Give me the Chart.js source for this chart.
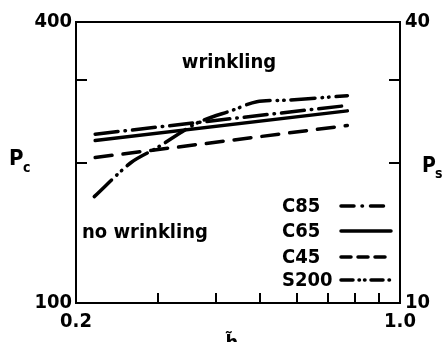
<!DOCTYPE html>
<html><head><meta charset="utf-8">
<script src="https://cdn.jsdelivr.net/npm/chart.js@4/dist/chart.umd.min.js"></script>
<style>html,body{margin:0;padding:0;background:#fff}</style>
</head><body>
<canvas id="c" width="443" height="342" style="display:block;width:443px;height:342px"></canvas>
<script>
// ---- data (log-log axes) ----
const seriesNames = ['C85', 'C65', 'C45', 'S200'];
const c85H = [0.22, 0.77];
const c85P = [230, 265];
const c65H = [0.22, 0.77];
const c65P = [223, 258];
const c45H = [0.22, 0.77];
const c45P = [205, 240];
const s200H = [0.219, 0.263, 0.299, 0.365, 0.436, 0.491, 0.570, 0.77];
const s200P = [169, 200, 215, 243, 259, 270, 272, 278];
const xTicks = [0.2, 0.3, 0.4, 0.5, 0.6, 0.7, 0.8, 0.9, 1.0];
const xTickLabels = ['0.2', '', '', '', '', '', '', '', '1.0'];
const pcTicks = [100, 200, 300, 400];
const pcTickLabels = ['100', '', '', '400'];
const psTicks = [10, 20, 30, 40];
const psTickLabels = ['10', '', '', '40'];
const regionLabels = ['wrinkling', 'no wrinkling'];

const FAM = '"DejaVu Sans Condensed", "DejaVu Sans"';
const F = (px) => 'bold ' + px + 'px ' + FAM;
const toPts = (h, p) => h.map((x, i) => ({x: x, y: p[i]}));

const decor = {
  id: 'decor',
  afterDraw(chart) {
    const ctx = chart.ctx;
    const a = chart.chartArea;
    const sx = chart.scales.x, sy = chart.scales.y, sy2 = chart.scales.y2;
    ctx.save();
    ctx.strokeStyle = '#000';
    ctx.fillStyle = '#000';
    ctx.lineWidth = 2;
    ctx.lineCap = 'butt';
    // top frame
    ctx.beginPath();
    ctx.moveTo(a.left - 1, a.top); ctx.lineTo(a.right + 1, a.top);
    ctx.stroke();
    // inward tick marks
    ctx.beginPath();
    xTicks.slice(1, -1).forEach(v => {
      const px = Math.round(sx.getPixelForValue(v));
      ctx.moveTo(px, a.bottom); ctx.lineTo(px, a.bottom - 10);
    });
    pcTicks.slice(1, -1).forEach(v => {
      const py = Math.round(sy.getPixelForValue(v));
      ctx.moveTo(a.left, py); ctx.lineTo(a.left + 11, py);
    });
    psTicks.slice(1, -1).forEach(v => {
      const py = Math.round(sy2.getPixelForValue(v));
      ctx.moveTo(a.right, py); ctx.lineTo(a.right - 11, py);
    });
    ctx.stroke();

    // region labels
    ctx.font = F(20);
    ctx.textBaseline = 'alphabetic';
    ctx.textAlign = 'center';
    ctx.fillText(regionLabels[0], 229, 68);
    ctx.textAlign = 'left';
    ctx.fillText(regionLabels[1], 82, 238);

    // axis titles
    ctx.font = F(22);
    ctx.fillText('P', 9, 165);
    ctx.font = F(14);
    ctx.fillText('c', 23, 172);
    ctx.font = F(21);
    ctx.fillText('P', 422, 172);
    ctx.font = F(14);
    ctx.fillText('s', 435, 178);
    ctx.font = F(20);
    ctx.textAlign = 'center';
    ctx.fillText('h\u0303', 232, 349);

    // legend
    const legY = [206, 231, 257, 280];
    const legDash = [[13, 8, 0.5, 8], [], [10, 7], [12, 6, 0.5, 5, 0.5, 6]];
    chart.data.datasets.forEach((ds, i) => {
      ctx.font = F(20);
      ctx.textAlign = 'left';
      ctx.textBaseline = 'middle';
      ctx.fillText(ds.label, 282, legY[i] + 1);
      ctx.save();
      ctx.lineWidth = 3.5;
      ctx.lineCap = 'round';
      ctx.setLineDash(legDash[i]);
      ctx.beginPath();
      ctx.moveTo(341, legY[i]); ctx.lineTo(391, legY[i]);
      ctx.stroke();
      ctx.restore();
    });
    ctx.restore();
  }
};

const tickFont = {family: FAM, size: 20, weight: 'bold'};
new Chart(document.getElementById('c'), {
  type: 'line',
  data: {
    datasets: [
      {label: seriesNames[0], data: toPts(c85H, c85P), borderDash: [23, 7, 0.5, 7]},
      {label: seriesNames[1], data: toPts(c65H, c65P), borderDash: []},
      {label: seriesNames[2], data: toPts(c45H, c45P), borderDash: [17, 11]},
      {label: seriesNames[3], data: toPts(s200H, s200P), borderDash: [24, 7, 0.5, 6, 0.5, 7], tension: 0.3}
    ]
  },
  options: {
    responsive: false,
    animation: false,
    devicePixelRatio: 1,
    layout: {padding: {top: 22, left: 0, right: 0, bottom: 0}},
    plugins: {legend: {display: false}, tooltip: {enabled: false}},
    elements: {
      point: {radius: 0},
      line: {borderColor: '#000', borderWidth: 3.5, borderCapStyle: 'round', fill: false, tension: 0}
    },
    scales: {
      x: {
        type: 'logarithmic', position: 'bottom', min: 0.2, max: 1.0,
        afterBuildTicks: s => { s.ticks = xTicks.map(v => ({value: v})); },
        afterFit: s => { s.height = 39; },
        grid: {display: false, drawTicks: false},
        border: {display: true, color: '#000', width: 2},
        ticks: {autoSkip: false, maxRotation: 0, padding: 7, color: '#000', font: tickFont,
                callback: (v, i) => xTickLabels[i]}
      },
      y: {
        type: 'logarithmic', position: 'left', min: 100, max: 400,
        afterBuildTicks: s => { s.ticks = pcTicks.map(v => ({value: v})); },
        afterFit: s => { s.width = 76; },
        grid: {display: false, drawTicks: false},
        border: {display: true, color: '#000', width: 2},
        ticks: {autoSkip: false, padding: 4, color: '#000', font: tickFont,
                callback: (v, i) => pcTickLabels[i]}
      },
      y2: {
        type: 'logarithmic', position: 'right', min: 10, max: 40,
        afterBuildTicks: s => { s.ticks = psTicks.map(v => ({value: v})); },
        afterFit: s => { s.width = 43; },
        grid: {display: false, drawTicks: false},
        border: {display: true, color: '#000', width: 2},
        ticks: {autoSkip: false, padding: 5, color: '#000', font: tickFont,
                callback: (v, i) => psTickLabels[i]}
      }
    }
  },
  plugins: [decor]
});
</script>
</body></html>
